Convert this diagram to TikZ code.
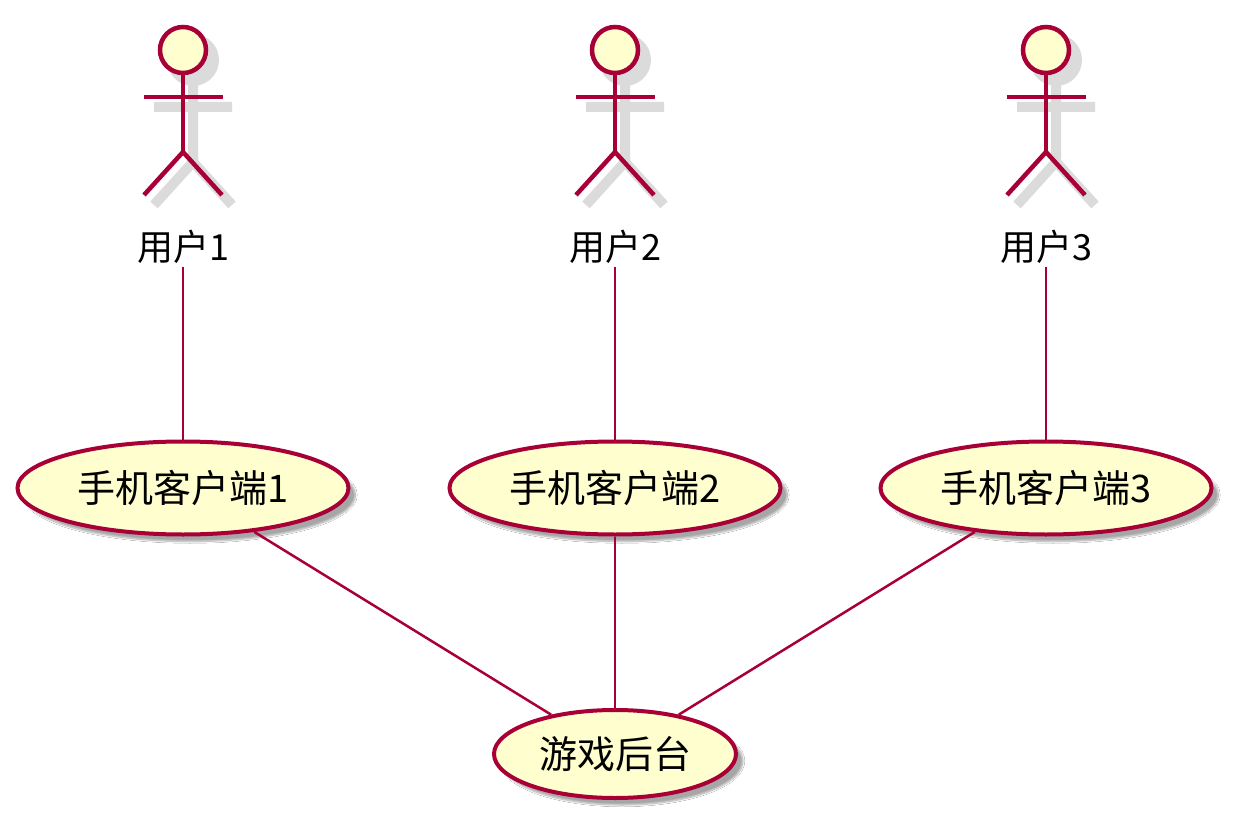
\documentclass[tikz,border=0pt]{standalone}
\usepackage{fontspec}
\newfontfamily\cjk{Noto Sans CJK SC}
\usetikzlibrary{shapes.geometric,shadows,shadows.blur}
\definecolor{umlfill}{HTML}{FEFECE}
\definecolor{umlline}{HTML}{A80036}
\newcommand\umlactor[3]{%
  \begin{scope}[shift={(#2,0)}]
    \begin{scope}[shift={(10,10)}, transparency group, opacity=0.14]
      \fill[black] (0,50) circle (26);
      \draw[black, line width=10pt] (0,75) -- (0,152) (-39,97) -- (39,97) (-39,195) -- (0,152) -- (39,195);
    \end{scope}
    \node[headnode] (#1h) at (0,50) {};
    \draw[actorline] (#1h.south) -- (0,152) coordinate (#1hip);
    \draw[actorline] (-39.5,97) coordinate (#1al) -- (39.5,97) coordinate (#1ar);
    \draw[actorline, line join=miter] (-39,195) coordinate (#1fl) -- (#1hip) -- (39,195) coordinate (#1fr);
    \node[actorlabel] (#1) at (0,247) {#3};
  \end{scope}
}
\begin{document}
\begin{tikzpicture}[x=1pt,y=-1pt,
  headnode/.style={circle, draw=umlline, line width=4.5pt, fill=umlfill, minimum size=46pt, inner sep=0pt},
  actorline/.style={draw=umlline, line width=4.5pt},
  actorlabel/.style={font=\cjk\fontsize{36}{40}\selectfont, inner sep=3pt, text=black},
  uc/.style={ellipse, draw=umlline, line width=4pt, fill=umlfill, inner sep=0pt,
    font=\cjk\fontsize{38}{40}\selectfont, text=black,
    blur shadow={shadow xshift=7pt, shadow yshift=-7pt, shadow blur steps=8, shadow opacity=35}},
  conn/.style={draw=umlline, line width=2.5pt}]
  \useasboundingbox[fill=white] (0,0) rectangle (1240,829);
  \umlactor{u1}{183}{用户1}
  \umlactor{u2}{615}{用户2}
  \umlactor{u3}{1046}{用户3}
  \node[uc, minimum width=331pt, minimum height=93pt] (c1) at (183,488) {手机客户端1};
  \node[uc, minimum width=331pt, minimum height=93pt] (c2) at (615,488) {手机客户端2};
  \node[uc, minimum width=331pt, minimum height=93pt] (c3) at (1046,488) {手机客户端3};
  \node[uc, minimum width=242pt, minimum height=88pt] (bk) at (615,754) {游戏后台};
  \draw[conn] (u1) -- (c1);
  \draw[conn] (u2) -- (c2);
  \draw[conn] (u3) -- (c3);
  \draw[conn] (c1) -- (bk);
  \draw[conn] (c2) -- (bk);
  \draw[conn] (c3) -- (bk);
\end{tikzpicture}
\end{document}
